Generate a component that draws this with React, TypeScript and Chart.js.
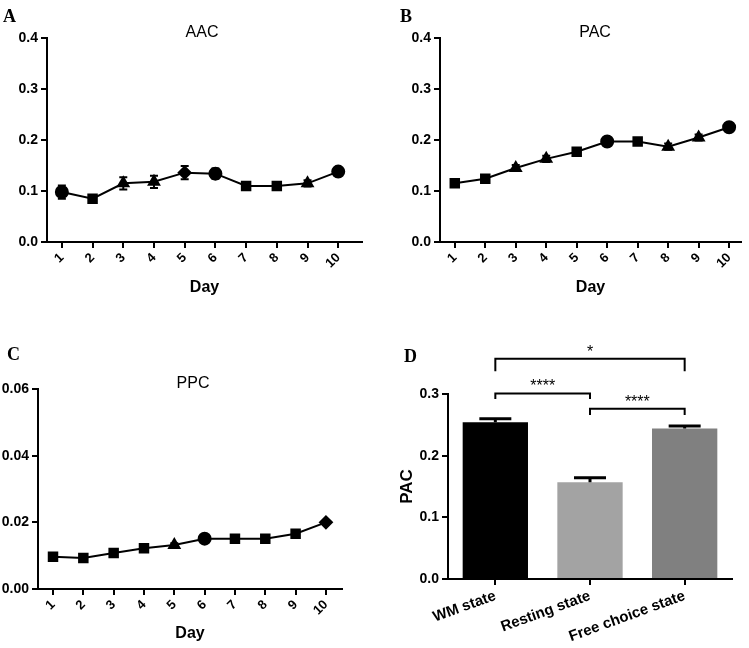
import React, { useEffect, useRef } from "react";
import { Chart, registerables } from "chart.js";

Chart.register(...registerables);

// ---------- data ----------
const days = [1, 2, 3, 4, 5, 6, 7, 8, 9, 10];
const dayLabels = ["1", "2", "3", "4", "5", "6", "7", "8", "9", "10"];

const aacMean = [0.098, 0.085, 0.115, 0.118, 0.136, 0.134, 0.110, 0.110, 0.115, 0.138];
const aacErr = [0.013, 0.0065, 0.012, 0.012, 0.013, 0.010, 0.0065, 0.0065, 0.006, 0.007];

const pacMean = [0.115, 0.124, 0.145, 0.163, 0.177, 0.197, 0.197, 0.187, 0.205, 0.225];
const pacErr = [0.004, 0.004, 0.006, 0.006, 0.004, 0.006, 0.007, 0.006, 0.006, 0.004];

const ppcMean = [0.0097, 0.0093, 0.0108, 0.0122, 0.0132, 0.0151, 0.0151, 0.0151, 0.0166, 0.0200];
const ppcErr = [0.0006, 0.0005, 0.0005, 0.0006, 0.0005, 0.0006, 0.0007, 0.0005, 0.0010, 0.0005];

const stateLabels = ["WM state", "Resting state", "Free choice state"];
const stateMean = [0.254, 0.157, 0.244];
const stateErr = [0.006, 0.007, 0.004];

// significance brackets
const bracketFrom = [0, 0, 1];
const bracketTo = [2, 1, 2];
const bracketLevel = [0.357, 0.301, 0.276];
const bracketLeg = [0.337, 0.292, 0.266];
const bracketText = ["*", "****", "****"];

// ---------- styles ----------
const SANS = "'Liberation Sans', Arial, Helvetica, sans-serif";
const SERIF = "'Liberation Serif', 'Times New Roman', serif";

const stylesA = ["circle", "rect", "triangle", "triangle", "rectRot", "circle", "rect", "rect", "triangle", "circle"];
const stylesB = ["rect", "rect", "triangle", "triangle", "rect", "circle", "rect", "triangle", "triangle", "circle"];
const stylesC = ["rect", "rect", "rect", "rect", "triangle", "circle", "rect", "rect", "rect", "rectRot"];
const stateColors = ["#000000", "#a3a3a3", "#808080"];

function errorBarPlugin(errs: number[], capHalf: number, upOnly: boolean, lw: number) {
  return {
    id: "errbars",
    afterDatasetsDraw(chart: any) {
      const meta = chart.getDatasetMeta(0);
      const ys = chart.scales.y;
      const ctx = chart.ctx;
      const raw = chart.data.datasets[0].data;
      ctx.save();
      ctx.strokeStyle = "#000";
      ctx.lineWidth = lw;
      meta.data.forEach((el: any, i: number) => {
        const d = raw[i];
        const v = typeof d === "number" ? d : d.y;
        const x = el.x;
        const yTop = ys.getPixelForValue(v + errs[i]);
        const yBot = upOnly ? ys.getPixelForValue(v) : ys.getPixelForValue(v - errs[i]);
        ctx.beginPath();
        ctx.moveTo(x, yTop);
        ctx.lineTo(x, yBot);
        ctx.moveTo(x - capHalf, yTop);
        ctx.lineTo(x + capHalf, yTop);
        if (!upOnly) {
          ctx.moveTo(x - capHalf, yBot);
          ctx.lineTo(x + capHalf, yBot);
        }
        ctx.stroke();
      });
      ctx.restore();
    },
  };
}

function titlePlugin(text: string, dx: number) {
  return {
    id: "paneltitle",
    afterDraw(chart: any) {
      const ctx = chart.ctx;
      const a = chart.chartArea;
      ctx.save();
      ctx.font = `16px ${SANS}`;
      ctx.fillStyle = "#000";
      ctx.textAlign = "center";
      ctx.textBaseline = "alphabetic";
      ctx.fillText(text, a.left + dx, a.top - 1);
      ctx.restore();
    },
  };
}

const bracketPlugin = {
  id: "brackets",
  afterDraw(chart: any) {
    const ctx = chart.ctx;
    const xs = chart.scales.x;
    const ys = chart.scales.y;
    ctx.save();
    ctx.strokeStyle = "#000";
    ctx.lineWidth = 2;
    ctx.fillStyle = "#000";
    ctx.font = `16px ${SANS}`;
    ctx.textAlign = "center";
    ctx.textBaseline = "alphabetic";
    for (let i = 0; i < bracketText.length; i++) {
      const x1 = xs.getPixelForValue(bracketFrom[i]);
      const x2 = xs.getPixelForValue(bracketTo[i]);
      const y = ys.getPixelForValue(bracketLevel[i]);
      const yl = ys.getPixelForValue(bracketLeg[i]);
      ctx.beginPath();
      ctx.moveTo(x1, yl);
      ctx.lineTo(x1, y);
      ctx.lineTo(x2, y);
      ctx.lineTo(x2, yl);
      ctx.stroke();
      ctx.fillText(bracketText[i], (x1 + x2) / 2, y - 2);
    }
    ctx.restore();
  },
};

const axisGrid = {
  display: true,
  drawOnChartArea: false,
  drawTicks: true,
  tickLength: 6,
  color: "#000",
  lineWidth: 2,
};
const axisBorder = { display: true, color: "#000", width: 2 };

type LineProps = {
  left: number;
  top: number;
  width: number;
  height: number;
  title: string;
  mean: number[];
  err: number[];
  styles: string[];
  yMax: number;
  yStep: number;
  decimals: number;
  xMin: number;
  xMax: number;
  pad: { left: number; top: number; right: number; bottom: number };
  yWidth: number;
  xHeight: number;
};

function LinePanel(p: LineProps) {
  const ref = useRef<HTMLCanvasElement | null>(null);
  useEffect(() => {
    if (!ref.current) return;
    const chart = new Chart(ref.current, {
      type: "line",
      data: {
        datasets: [
          {
            data: days.map((d, i) => ({ x: d, y: p.mean[i] })),
            borderColor: "#000",
            borderWidth: 2,
            backgroundColor: "#000",
            pointBackgroundColor: "#000",
            pointBorderColor: "#000",
            pointStyle: p.styles as any,
            pointRadius: 6,
            tension: 0,
            fill: false,
          },
        ],
      },
      options: {
        animation: false,
        responsive: false,
        devicePixelRatio: 1,
        layout: { padding: p.pad },
        plugins: { legend: { display: false }, tooltip: { enabled: false }, title: { display: false } },
        scales: {
          x: {
            type: "linear",
            min: p.xMin,
            max: p.xMax,
            afterBuildTicks: (s: any) => {
              s.ticks = days.map((v) => ({ value: v }));
            },
            afterFit: (s: any) => {
              s.height = p.xHeight;
            },
            ticks: {
              autoSkip: false,
              minRotation: 45,
              maxRotation: 45,
              padding: 2,
              color: "#000",
              font: { family: SANS, size: 13, weight: "bold" },
              callback: (v: any) => {
                const k = days.indexOf(Number(v));
                return k >= 0 ? dayLabels[k] : "";
              },
            },
            grid: axisGrid,
            border: axisBorder,
            title: {
              display: true,
              text: "Day",
              color: "#000",
              padding: 0,
              font: { family: SANS, size: 16, weight: "bold" },
            },
          },
          y: {
            min: 0,
            max: p.yMax,
            afterFit: (s: any) => {
              s.width = p.yWidth;
            },
            ticks: {
              stepSize: p.yStep,
              padding: 3,
              color: "#000",
              font: { family: SANS, size: 14, weight: "bold" },
              callback: (v: any) => Number(v).toFixed(p.decimals),
            },
            grid: axisGrid,
            border: axisBorder,
          },
        },
      } as any,
      plugins: [errorBarPlugin(p.err, 4, false, 2), titlePlugin(p.title, 155)],
    });
    return () => chart.destroy();
  }, []);
  return (
    <div style={{ position: "absolute", left: p.left, top: p.top, width: p.width, height: p.height }}>
      <canvas ref={ref} width={p.width} height={p.height} style={{ width: p.width, height: p.height, display: "block" }} />
    </div>
  );
}

function BarPanel() {
  const ref = useRef<HTMLCanvasElement | null>(null);
  const W = 379;
  const H = 338;
  useEffect(() => {
    if (!ref.current) return;
    const chart = new Chart(ref.current, {
      type: "bar",
      data: {
        labels: stateLabels,
        datasets: [
          {
            data: stateMean,
            backgroundColor: stateColors,
            borderWidth: 0,
            barPercentage: 0.69,
            categoryPercentage: 1,
          },
        ],
      },
      options: {
        animation: false,
        responsive: false,
        devicePixelRatio: 1,
        layout: { padding: { left: 0, top: 84, right: 17, bottom: 0 } },
        plugins: { legend: { display: false }, tooltip: { enabled: false }, title: { display: false } },
        scales: {
          x: {
            afterFit: (s: any) => {
              s.height = 69;
            },
            ticks: {
              autoSkip: false,
              minRotation: 20,
              maxRotation: 20,
              padding: 2,
              color: "#000",
              font: { family: SANS, size: 15, weight: "bold" },
            },
            grid: { ...axisGrid, offset: false },
            border: axisBorder,
          },
          y: {
            min: 0,
            max: 0.3,
            afterFit: (s: any) => {
              s.width = 78;
            },
            ticks: {
              stepSize: 0.1,
              padding: 3,
              color: "#000",
              font: { family: SANS, size: 14, weight: "bold" },
              callback: (v: any) => Number(v).toFixed(1),
            },
            grid: axisGrid,
            border: axisBorder,
            title: {
              display: true,
              text: "PAC",
              color: "#000",
              padding: { top: 27, bottom: 0 },
              font: { family: SANS, size: 17, weight: "bold" },
            },
          },
        },
      } as any,
      plugins: [errorBarPlugin(stateErr, 16, true, 3), bracketPlugin],
    });
    return () => chart.destroy();
  }, []);
  return (
    <div style={{ position: "absolute", left: 370, top: 310, width: W, height: H }}>
      <canvas ref={ref} width={W} height={H} style={{ width: W, height: H, display: "block" }} />
    </div>
  );
}

function Letter({ text, left, top }: { text: string; left: number; top: number }) {
  return (
    <div
      style={{
        position: "absolute",
        left,
        top,
        fontFamily: SERIF,
        fontWeight: "bold",
        fontSize: 18,
        lineHeight: "18px",
        color: "#000",
      }}
    >
      {text}
    </div>
  );
}

export default function App() {
  return (
    <div style={{ position: "absolute", left: 0, top: 0, width: 749, height: 648, background: "#fff", overflow: "hidden" }}>
      <LinePanel
        left={0}
        top={0}
        width={370}
        height={310}
        title="AAC"
        mean={aacMean}
        err={aacErr}
        styles={stylesA}
        yMax={0.4}
        yStep={0.1}
        decimals={1}
        xMin={0.516}
        xMax={10.774}
        pad={{ left: 0, top: 38, right: 5, bottom: 13 }}
        yWidth={47}
        xHeight={55}
      />
      <LinePanel
        left={370}
        top={0}
        width={379}
        height={310}
        title="PAC"
        mean={pacMean}
        err={pacErr}
        styles={stylesB}
        yMax={0.4}
        yStep={0.1}
        decimals={1}
        xMin={0.515}
        xMax={10.39}
        pad={{ left: 23, top: 38, right: 4, bottom: 13 }}
        yWidth={47}
        xHeight={55}
      />
      <LinePanel
        left={0}
        top={330}
        width={370}
        height={318}
        title="PPC"
        mean={ppcMean}
        err={ppcErr}
        styles={stylesC}
        yMax={0.06}
        yStep={0.02}
        decimals={2}
        xMin={0.505}
        xMax={10.53}
        pad={{ left: 0, top: 59, right: 28, bottom: 5 }}
        yWidth={38}
        xHeight={54}
      />
      <BarPanel />
      <Letter text="A" left={3} top={7} />
      <Letter text="B" left={400} top={7} />
      <Letter text="C" left={7} top={345} />
      <Letter text="D" left={404} top={347} />
    </div>
  );
}
